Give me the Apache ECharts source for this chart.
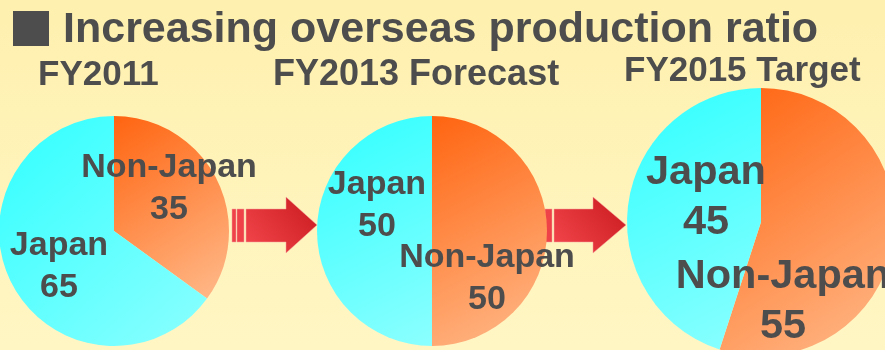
<!DOCTYPE html>
<html>
<head>
    <meta charset="UTF-8" />
    <title>Overseas production ratio</title>
    <script src="https://cdn.jsdelivr.net/npm/echarts@6/dist/echarts.min.js"></script>
    <style>
        html, body { margin: 0; padding: 0; }
        #main { width: 885px; height: 350px; }
    </style>
</head>
<body>
    <div id="main"></div>
    <script>
    // data
    var periods = ['FY2011', 'FY2013 Forecast', 'FY2015 Target'];
    var regions = ['Non-Japan', 'Japan'];
    var nonJapan = [35, 50, 55];
    var japan = [65, 50, 45];

    // layout for each pie: centre, radius, label font, label offsets from centre
    var pies = [
        { center: [114, 231], radius: 115, font: 34, lh: 42, off: [[55, -42], [-55, 36]], title: [38, 75, 35] },
        { center: [432, 231], radius: 115, font: 34, lh: 42, off: [[55, 48], [-55, -25]], title: [273, 75, 36] },
        { center: [761, 222], radius: 134, font: 41.5, lh: 50, off: [[22, 80], [-55, -24]], title: [624, 71, 35] }
    ];

    var textColor = '#4d4d4d';
    var fontFam = '"Liberation Sans", Arial, sans-serif';

    function grad(c0, c1) {
        return new echarts.graphic.LinearGradient(0, 0, 1, 1, [
            { offset: 0, color: c0 },
            { offset: 1, color: c1 }
        ]);
    }

    var sliceColors = [grad('#ff6410', '#ffbb8c'), grad('#30ffff', '#8cffff')];

    var series = [];
    var graphics = [];
    for (var i = 0; i < periods.length; i++) {
        var p = pies[i];
        var vals = [nonJapan[i], japan[i]];
        var items = [];
        for (var j = 0; j < regions.length; j++) {
            items.push({ name: regions[j], value: vals[j], itemStyle: { color: sliceColors[j] } });
        }
        (function (p) {
            series.push({
                type: 'pie',
                center: p.center,
                radius: p.radius,
                startAngle: 90,
                clockwise: true,
                silent: true,
                animation: false,
                data: items,
                label: {
                    show: true,
                    position: 'inside',
                    formatter: '{b}\n{c}',
                    color: textColor,
                    fontSize: p.font,
                    fontWeight: 'bold',
                    fontFamily: fontFam,
                    lineHeight: p.lh,
                    align: 'center'
                },
                labelLine: { show: false },
                labelLayout: function (params) {
                    var o = p.off[params.dataIndex];
                    return {
                        x: p.center[0] + o[0],
                        y: p.center[1] + o[1],
                        align: 'center',
                        verticalAlign: 'middle'
                    };
                }
            });
        })(p);
        graphics.push({
            type: 'text',
            x: p.title[0],
            y: p.title[1],
            style: {
                text: periods[i],
                fill: textColor,
                font: 'bold ' + p.title[2] + 'px ' + fontFam,
                verticalAlign: 'middle'
            }
        });
    }

    // title
    graphics.push({
        type: 'rect',
        shape: { x: 13, y: 11, width: 36, height: 35 },
        style: { fill: textColor }
    });
    graphics.push({
        type: 'text',
        x: 63,
        y: 30,
        style: {
            text: 'Increasing overseas production ratio',
            fill: textColor,
            font: 'bold 43px ' + fontFam,
            verticalAlign: 'middle'
        }
    });

    // arrows between pies
    var arrowFill = new echarts.graphic.LinearGradient(0, 1, 1, 0, [
        { offset: 0, color: '#f4474d' },
        { offset: 1, color: '#c81a1e' }
    ]);
    [[232, 286, 317], [540, 593, 626]].forEach(function (a) {
        var x0 = a[0], hx = a[1], tip = a[2];
        graphics.push({ type: 'rect', shape: { x: x0, y: 209, width: 4, height: 33 }, style: { fill: '#ee4248', stroke: '#f7a0a0', lineWidth: 0.5 } });
        graphics.push({ type: 'rect', shape: { x: x0 + 5, y: 209, width: 7, height: 33 }, style: { fill: '#ee4248', stroke: '#f7a0a0', lineWidth: 0.5 } });
        graphics.push({
            type: 'polygon',
            shape: {
                points: [[x0 + 14, 209], [hx, 209], [hx, 197], [tip, 225], [hx, 253], [hx, 242], [x0 + 14, 242]]
            },
            style: { fill: arrowFill, stroke: '#f7a0a0', lineWidth: 0.5 }
        });
    });

    var myChart = echarts.init(document.getElementById('main'));
    myChart.setOption({
        backgroundColor: new echarts.graphic.LinearGradient(0, 0, 0, 1, [
            { offset: 0, color: '#fef0ae' },
            { offset: 1, color: '#fff6c4' }
        ]),
        animation: false,
        series: series,
        graphic: graphics
    });
    </script>
</body>
</html>
